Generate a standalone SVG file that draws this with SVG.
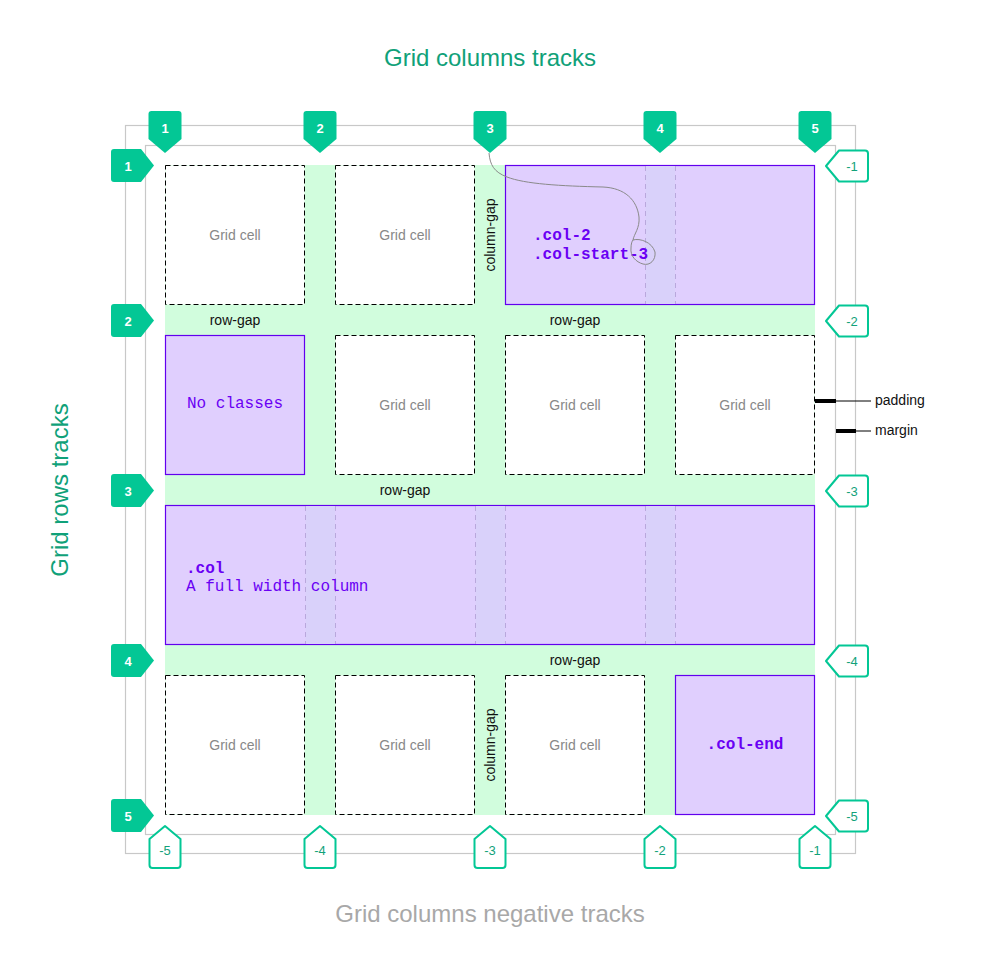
<svg xmlns="http://www.w3.org/2000/svg" width="981" height="980" viewBox="0 0 981 980">
<style>
.sans{font-family:"Liberation Sans",Arial,sans-serif}
.mono{font-family:"Liberation Mono","Courier New",monospace}
.title{font-size:24px;text-anchor:middle}
.cell{fill:#fff;stroke:#000;stroke-width:1;stroke-dasharray:5 3}
.celltxt{font-size:14px;fill:#888;text-anchor:middle}
.gaptxt{font-size:14px;fill:#111;text-anchor:middle}
.pbox{fill:#e0cffe;stroke:#6200ee;stroke-width:1.2}
.pgap{fill:#d9d1fa}
.pdash{stroke:#b9a8dc;stroke-width:1;stroke-dasharray:5 4;fill:none}
.ptxt{font-size:16px;fill:#6a00f4}
.b{font-weight:bold}
.mf{fill:#03c795}
.mo{fill:#fff;stroke:#03c795;stroke-width:2;stroke-linejoin:round}
.mft{font-size:13px;font-weight:bold;fill:#fff;text-anchor:middle}
.mot{font-size:13px;fill:#12a27a;text-anchor:middle}
.guide{fill:none;stroke:#c8c8c8;stroke-width:1.2}
</style>
<defs>
<path id="mdown" d="M-16.5,114 q0,-3 3,-3 h27 q3,0 3,3 v25 l-16.5,14 l-16.5,-14 z"/>
<path id="mright" d="M114,-16.5 q-3,0 -3,3 v27 q0,3 3,3 h27 l13,-16.5 l-13,-16.5 z"/>
<path id="mleft" d="M826,0 l13,-15.5 h26 q3,0 3,3 v25 q0,3 -3,3 h-26 z"/>
<path id="mup" d="M0,826 l15.5,13 v26 q0,3 -3,3 h-25 q-3,0 -3,-3 v-26 z"/>
</defs>
<rect width="981" height="980" fill="#fff"/>

<g id="titles" class="sans">
<text class="title" x="490" y="66" fill="#10a179">Grid columns tracks</text>
<text class="title" x="0" y="0" fill="#10a179" transform="translate(68,490) rotate(-90)">Grid rows tracks</text>
<text class="title" x="490" y="922" fill="#a8a8a8">Grid columns negative tracks</text>
</g>

<g id="guides">
<rect class="guide" x="125.5" y="125.5" width="730" height="728"/>
<rect class="guide" x="145.5" y="145.5" width="690" height="689"/>
</g>

<g id="grid">
<rect x="165" y="165" width="650" height="650" fill="#d1fddd"/>
</g>

<g id="cells" class="sans">
<g id="c11"><rect class="cell" x="165.5" y="165.5" width="139" height="139"/><text class="celltxt" x="235" y="240">Grid cell</text></g>
<g id="c12"><rect class="cell" x="335.5" y="165.5" width="139" height="139"/><text class="celltxt" x="405" y="240">Grid cell</text></g>
<g id="c22"><rect class="cell" x="335.5" y="335.5" width="139" height="139"/><text class="celltxt" x="405" y="410">Grid cell</text></g>
<g id="c23"><rect class="cell" x="505.5" y="335.5" width="139" height="139"/><text class="celltxt" x="575" y="410">Grid cell</text></g>
<g id="c24"><rect class="cell" x="675.5" y="335.5" width="139" height="139"/><text class="celltxt" x="745" y="410">Grid cell</text></g>
<g id="c41"><rect class="cell" x="165.5" y="675.5" width="139" height="139"/><text class="celltxt" x="235" y="750">Grid cell</text></g>
<g id="c42"><rect class="cell" x="335.5" y="675.5" width="139" height="139"/><text class="celltxt" x="405" y="750">Grid cell</text></g>
<g id="c43"><rect class="cell" x="505.5" y="675.5" width="139" height="139"/><text class="celltxt" x="575" y="750">Grid cell</text></g>
</g>

<g id="col2">
<rect class="pbox" x="505.5" y="165.5" width="309" height="139"/>
<rect class="pgap" x="645.5" y="166" width="29.5" height="138"/>
<line class="pdash" x1="645.5" y1="166" x2="645.5" y2="304"/>
<line class="pdash" x1="675.5" y1="166" x2="675.5" y2="304"/>
<text class="mono ptxt b" x="533" y="240">.col-2</text>
<text class="mono ptxt b" x="533" y="259">.col-start-3</text>
</g>

<g id="noclasses">
<rect class="pbox" x="165.5" y="335.5" width="139" height="139"/>
<text class="mono ptxt" x="235" y="408" text-anchor="middle">No classes</text>
</g>

<g id="fullcol">
<rect class="pbox" x="165.5" y="505.5" width="649" height="139"/>
<rect class="pgap" x="305.5" y="506" width="29.5" height="138"/>
<rect class="pgap" x="475.5" y="506" width="29.5" height="138"/>
<rect class="pgap" x="645.5" y="506" width="29.5" height="138"/>
<line class="pdash" x1="305.5" y1="506" x2="305.5" y2="644"/>
<line class="pdash" x1="335.5" y1="506" x2="335.5" y2="644"/>
<line class="pdash" x1="475.5" y1="506" x2="475.5" y2="644"/>
<line class="pdash" x1="505.5" y1="506" x2="505.5" y2="644"/>
<line class="pdash" x1="645.5" y1="506" x2="645.5" y2="644"/>
<line class="pdash" x1="675.5" y1="506" x2="675.5" y2="644"/>
<text class="mono ptxt b" x="186" y="573">.col</text>
<text class="mono ptxt" x="186" y="591">A full width column</text>
</g>

<g id="colend">
<rect class="pbox" x="675.5" y="675.5" width="139" height="139"/>
<text class="mono ptxt b" x="745" y="749" text-anchor="middle">.col-end</text>
</g>

<g id="gaplabels" class="sans">
<text class="gaptxt" x="235" y="325">row-gap</text>
<text class="gaptxt" x="575" y="325">row-gap</text>
<text class="gaptxt" x="405" y="495">row-gap</text>
<text class="gaptxt" x="575" y="665">row-gap</text>
<text class="gaptxt" transform="translate(495,235) rotate(-90)">column-gap</text>
<text class="gaptxt" transform="translate(495,745) rotate(-90)">column-gap</text>
</g>

<g id="connectors" fill="none">
<path d="M489,153 C490,165 494,172 507,177 C525,184 560,186 603,187 C625,188 637,200 639,217 C640,228 634,234 633,240 C640,238 652,242 655,252 C656,260 650,266 643,264 C636,262 630,256 631,248 C631,244 632,241 633,240" stroke="#8a8a8a" stroke-width="1"/>
<line x1="815" y1="401" x2="836" y2="401" stroke="#000" stroke-width="4"/>
<line x1="836" y1="401" x2="871" y2="401" stroke="#000" stroke-width="1"/>
<line x1="836" y1="431" x2="856" y2="431" stroke="#000" stroke-width="4"/>
<line x1="856" y1="431" x2="871" y2="431" stroke="#000" stroke-width="1"/>
</g>

<g id="boxlabels" class="sans" font-size="14" fill="#111">
<text x="875" y="405">padding</text>
<text x="875" y="435">margin</text>
</g>

<g id="topmarkers" class="sans">
<g id="t1"><use href="#mdown" class="mf" x="165"/><text class="mft" x="165" y="133">1</text></g>
<g id="t2"><use href="#mdown" class="mf" x="320"/><text class="mft" x="320" y="133">2</text></g>
<g id="t3"><use href="#mdown" class="mf" x="490"/><text class="mft" x="490" y="133">3</text></g>
<g id="t4"><use href="#mdown" class="mf" x="660"/><text class="mft" x="660" y="133">4</text></g>
<g id="t5"><use href="#mdown" class="mf" x="815"/><text class="mft" x="815" y="133">5</text></g>
</g>

<g id="leftmarkers" class="sans">
<g id="l1"><use href="#mright" class="mf" y="165.5"/><text class="mft" x="128" y="171">1</text></g>
<g id="l2"><use href="#mright" class="mf" y="320.5"/><text class="mft" x="128" y="326">2</text></g>
<g id="l3"><use href="#mright" class="mf" y="490.5"/><text class="mft" x="128" y="496">3</text></g>
<g id="l4"><use href="#mright" class="mf" y="660.5"/><text class="mft" x="128" y="666">4</text></g>
<g id="l5"><use href="#mright" class="mf" y="815.5"/><text class="mft" x="128" y="821">5</text></g>
</g>

<g id="rightmarkers" class="sans">
<g id="r1"><use href="#mleft" class="mo" y="166"/><text class="mot" x="852" y="171">-1</text></g>
<g id="r2"><use href="#mleft" class="mo" y="321"/><text class="mot" x="852" y="326">-2</text></g>
<g id="r3"><use href="#mleft" class="mo" y="491"/><text class="mot" x="852" y="496">-3</text></g>
<g id="r4"><use href="#mleft" class="mo" y="661"/><text class="mot" x="852" y="666">-4</text></g>
<g id="r5"><use href="#mleft" class="mo" y="816"/><text class="mot" x="852" y="821">-5</text></g>
</g>

<g id="bottommarkers" class="sans">
<g id="b1"><use href="#mup" class="mo" x="165"/><text class="mot" x="165" y="855">-5</text></g>
<g id="b2"><use href="#mup" class="mo" x="320"/><text class="mot" x="320" y="855">-4</text></g>
<g id="b3"><use href="#mup" class="mo" x="490"/><text class="mot" x="490" y="855">-3</text></g>
<g id="b4"><use href="#mup" class="mo" x="660"/><text class="mot" x="660" y="855">-2</text></g>
<g id="b5"><use href="#mup" class="mo" x="815"/><text class="mot" x="815" y="855">-1</text></g>
</g>
</svg>
